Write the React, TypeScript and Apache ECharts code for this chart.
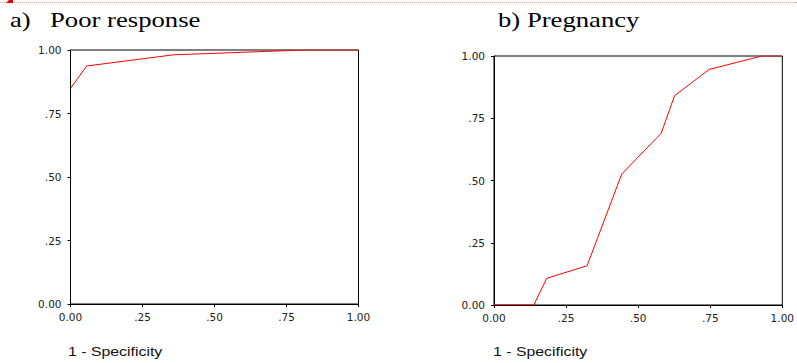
import React, { useEffect, useRef } from "react";
import * as echarts from "echarts";

const poorX = [0, 0.056, 0.357, 0.81, 1];
const poorY = [0.849, 0.937, 0.981, 1, 1];
const pregX = [0, 0.138, 0.183, 0.323, 0.443, 0.58, 0.626, 0.746, 0.929, 1];
const pregY = [0, 0, 0.107, 0.158, 0.526, 0.69, 0.84, 0.946, 1, 1];
const tickValues = [0, 0.25, 0.5, 0.75, 1];
const tickLabels = ["0.00", ".25", ".50", ".75", "1.00"];
const titleA = ["a)", "Poor response"];
const titleB = "b) Pregnancy";
const axisTitle = "1 - Specificity";

const fmt = (v: number) => {
  const i = tickValues.findIndex((t) => Math.abs(t - v) < 1e-9);
  return i >= 0 ? tickLabels[i] : "";
};

const makeAxis = (gridIndex: number, isX: boolean) => ({
  type: "value",
  gridIndex,
  min: 0,
  max: 1,
  interval: 0.25,
  splitLine: { show: false },
  axisLine: { show: true, onZero: false, lineStyle: { color: "#000", width: 1 } },
  axisTick: { show: true, length: 3, inside: false, lineStyle: { color: "#000" } },
  axisLabel: {
    formatter: fmt,
    fontFamily: "DejaVu Sans",
    fontSize: 10.5,
    color: "#222",
    margin: isX ? 7 : 9,
  },
});

export default function App() {
  const ref = useRef<HTMLDivElement>(null);
  useEffect(() => {
    if (!ref.current) return;
    const chart = echarts.init(ref.current, null, { renderer: "svg" });
    const sx = 1.27;
    const titleStyle = (text: string) => ({
      text,
      fontFamily: "Liberation Serif",
      fontSize: 21,
      fill: "#000",
      verticalAlign: "middle",
      align: "left",
    });
    const subStyle = {
      text: axisTitle,
      fontFamily: "Liberation Sans",
      fontSize: 12.5,
      fill: "#111",
      verticalAlign: "middle",
      align: "left",
    };
    chart.setOption({
      animation: false,
      grid: [
        { left: 70.5, top: 50, width: 288, height: 254, show: true, borderColor: "#000", borderWidth: 1, backgroundColor: "transparent" },
        { left: 494, top: 56, width: 297, height: 249, show: true, borderColor: "#000", borderWidth: 1, backgroundColor: "transparent" },
      ],
      xAxis: [makeAxis(0, true), makeAxis(1, true)],
      yAxis: [makeAxis(0, false), makeAxis(1, false)],
      series: [
        {
          type: "line",
          xAxisIndex: 0,
          yAxisIndex: 0,
          data: poorX.map((x, i) => [x, poorY[i]]),
          showSymbol: false,
          symbol: "none",
          lineStyle: { color: "#ff0000", width: 1 },
        },
        {
          type: "line",
          xAxisIndex: 1,
          yAxisIndex: 1,
          data: pregX.map((x, i) => [x, pregY[i]]),
          showSymbol: false,
          symbol: "none",
          lineStyle: { color: "#ff0000", width: 1 },
        },
      ],
      graphic: [
        {
          type: "line",
          shape: { x1: 0, y1: 2.5, x2: 797, y2: 2.5 },
          style: { stroke: "#f4a0a0", lineWidth: 1, lineDash: [1, 1] },
        },
        {
          type: "polygon",
          shape: { points: [[6, 3], [9, 0], [13, 0], [13, 3]] },
          style: { fill: "#e00000" },
        },
        { type: "text", x: 10, y: 20, scaleX: sx, style: titleStyle(titleA[0]) },
        { type: "text", x: 50, y: 20, scaleX: sx, style: titleStyle(titleA[1]) },
        { type: "text", x: 498, y: 20, scaleX: sx, style: titleStyle(titleB) },
        { type: "text", x: 68, y: 352, scaleX: sx, style: subStyle },
        { type: "text", x: 493, y: 352, scaleX: sx, style: subStyle },
      ],
    });
    return () => chart.dispose();
  }, []);
  return (
    <div
      ref={ref}
      style={{ position: "absolute", left: 0, top: 0, width: 797, height: 363, background: "#fff" }}
    />
  );
}
